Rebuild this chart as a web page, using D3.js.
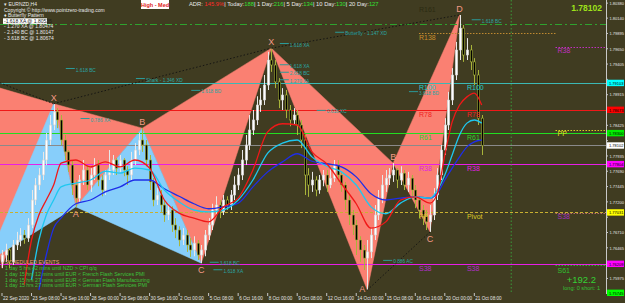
<!DOCTYPE html>
<html><head><meta charset="utf-8">
<script src="https://cdn.jsdelivr.net/npm/d3@7/dist/d3.min.js"></script>
<style>
html,body{margin:0;padding:0;background:#403c21;overflow:hidden}
svg{display:block}
</style></head><body>
<svg id="chart" width="625" height="303"></svg>
<script>
// ---------- DATA ----------
const firstOpen = 1.7624;
const closes = [1.7635,1.7643,1.7624,1.7651,1.7659,1.7667,1.7662,1.7683,1.7723,1.7747,
 1.7763,1.7787,1.7819,1.7843,1.7864,1.7851,1.7819,1.7800,1.7779,1.7747,
 1.7726,1.7755,1.7771,1.7747,1.7763,1.7779,1.7755,1.7739,1.7763,1.7771,
 1.7787,1.7774,1.7787,1.7771,1.7763,1.7787,1.7803,1.7819,1.7811,1.7787,
 1.7752,1.7723,1.7731,1.7715,1.7699,1.7707,1.7683,1.7675,1.7659,1.7667,
 1.7651,1.7643,1.7654,1.7635,1.7643,1.7667,1.7683,1.7707,1.7715,1.7704,
 1.7723,1.7715,1.7731,1.7747,1.7763,1.7787,1.7811,1.7835,1.7851,1.7875,
 1.7883,1.7907,1.7947,1.7939,1.7912,1.7883,1.7891,1.7867,1.7851,1.7859,
 1.7843,1.7819,1.7763,1.7747,1.7755,1.7739,1.7755,1.7763,1.7747,1.7758,
 1.7779,1.7763,1.7747,1.7723,1.7699,1.7683,1.7659,1.7643,1.7630,1.7640,
 1.7667,1.7699,1.7726,1.7747,1.7758,1.7763,1.7771,1.7755,1.7766,1.7747,
 1.7758,1.7739,1.7723,1.7707,1.7697,1.7688,1.7699,1.7731,1.7763,1.7803,
 1.7843,1.7883,1.7923,1.7963,1.7998,1.7955,1.7963,1.7944,1.7923,1.7854,
 1.7810];
const highs = [1.7643,1.7653,1.7646,1.7659,1.7672,1.7678,1.7675,1.7694,1.7739,1.7758,
 1.7774,1.7800,1.7830,1.7859,1.7877,1.7870,1.7859,1.7827,1.7803,1.7787,
 1.7755,1.7763,1.7787,1.7779,1.7774,1.7790,1.7787,1.7763,1.7771,1.7803,
 1.7795,1.7790,1.7795,1.7790,1.7777,1.7800,1.7814,1.7830,1.7838,1.7819,
 1.7795,1.7758,1.7742,1.7739,1.7723,1.7717,1.7713,1.7694,1.7681,1.7678,
 1.7675,1.7662,1.7665,1.7659,1.7651,1.7675,1.7694,1.7717,1.7729,1.7723,
 1.7731,1.7729,1.7739,1.7761,1.7774,1.7803,1.7827,1.7859,1.7867,1.7889,
 1.7902,1.7923,1.7960,1.7966,1.7947,1.7918,1.7902,1.7899,1.7875,1.7870,
 1.7867,1.7851,1.7827,1.7774,1.7768,1.7761,1.7763,1.7771,1.7771,1.7774,
 1.7787,1.7787,1.7768,1.7752,1.7731,1.7707,1.7691,1.7665,1.7651,1.7659,
 1.7678,1.7715,1.7739,1.7763,1.7771,1.7774,1.7782,1.7774,1.7777,1.7771,
 1.7768,1.7763,1.7747,1.7729,1.7715,1.7707,1.7715,1.7742,1.7774,1.7811,
 1.7854,1.7896,1.7934,1.7976,1.8019,1.8003,1.7982,1.7971,1.7950,1.7931,
 1.7859];
const lows = [1.7614,1.7624,1.7614,1.7619,1.7643,1.7649,1.7653,1.7656,1.7678,1.7715,
 1.7739,1.7755,1.7779,1.7811,1.7835,1.7838,1.7811,1.7787,1.7768,1.7731,
 1.7712,1.7720,1.7747,1.7739,1.7736,1.7755,1.7745,1.7729,1.7731,1.7755,
 1.7763,1.7763,1.7768,1.7761,1.7747,1.7755,1.7779,1.7795,1.7800,1.7777,
 1.7739,1.7713,1.7715,1.7704,1.7688,1.7691,1.7672,1.7662,1.7649,1.7651,
 1.7640,1.7632,1.7633,1.7627,1.7622,1.7633,1.7659,1.7675,1.7699,1.7694,
 1.7699,1.7707,1.7707,1.7723,1.7739,1.7755,1.7779,1.7803,1.7827,1.7843,
 1.7864,1.7875,1.7899,1.7928,1.7902,1.7870,1.7867,1.7854,1.7841,1.7843,
 1.7827,1.7806,1.7731,1.7728,1.7736,1.7729,1.7733,1.7745,1.7736,1.7742,
 1.7752,1.7752,1.7736,1.7707,1.7683,1.7667,1.7635,1.7624,1.7611,1.7579,
 1.7630,1.7659,1.7691,1.7718,1.7736,1.7747,1.7752,1.7742,1.7747,1.7739,
 1.7736,1.7726,1.7710,1.7694,1.7683,1.7675,1.7672,1.7691,1.7723,1.7755,
 1.7795,1.7835,1.7875,1.7915,1.7947,1.7944,1.7947,1.7931,1.7907,1.7843,
 1.7795];

const maBars = [6,8,10,12,14,16,20,24,28,32,36,40,44,48,52,56,60,64,68,72,76,80,84,88,92,96,100,104,108,112,116,118,120,122,124,126,128,130];
const maFast = [1.7587,1.7659,1.7699,1.7723,1.7747,1.7782,1.7787,1.7776,1.7784,1.7776,1.7787,1.7774,1.7723,1.7702,1.7694,1.7688,1.7712,1.7726,1.7771,1.7832,1.7845,1.7843,1.7800,1.7781,1.7749,1.7717,1.7678,1.7688,1.7723,1.7728,1.7718,1.7734,1.7795,1.7848,1.7875,1.7888,1.7894,1.7875];
const maMid = [null,1.7595,1.7659,1.7699,1.7723,1.7744,1.7750,1.7755,1.7769,1.7766,1.7774,1.7771,1.7739,1.7720,1.7707,1.7704,1.7707,1.7723,1.7755,1.7798,1.7814,1.7819,1.7792,1.7777,1.7768,1.7747,1.7712,1.7701,1.7718,1.7728,1.7726,1.7739,1.7763,1.7795,1.7827,1.7846,1.7851,1.7846];
const maSlow = [null,null,1.7579,1.7635,1.7678,1.7694,1.7717,1.7723,1.7736,1.7744,1.7755,1.7755,1.7741,1.7729,1.7717,1.7709,1.7712,1.7718,1.7744,1.7768,1.7784,1.7797,1.7785,1.7781,1.7776,1.7760,1.7733,1.7723,1.7726,1.7728,1.7726,1.7734,1.7755,1.7774,1.7792,1.7808,1.7816,1.7819];

// harmonic patterns: X, A, B, C, D
const patPrevBars = [-20,-14,-8,0,14];   const patPrevPrices = [1.7955,1.7560,1.7915,1.7614,1.7877]; // bearish
const patBullBars = [-4,14,20,38,54];    const patBullPrices = [1.7624,1.7877,1.7712,1.7838,1.7622]; // bullish
const pat1Bars = [14,20,38,54,73];       const pat1Prices = [1.7877,1.7712,1.7838,1.7622,1.7966];   // bearish
const pat2Bars = [73,99,106,116,124];    const pat2Prices = [1.7966,1.7579,1.7782,1.7672,1.8019];   // bearish
const pointNames = ["X","A","B","C","D"];

// pivot levels
const levelNames = ["R161","R138","R100","R78","R61","R38","PP","S38"];
const levelNames2 = ["","","R100","R78","R61","R38","Pivot","S38"];
const levelPrices = [1.8035,1.7990,1.79103,1.78673,1.78300,1.77804,1.77031,1.76209];
const weeklyNames = ["R38","PP","S38","S61"];
const weeklyPrices = [1.7968,1.7835,1.7702,1.7619];
const dashDotPrice = 1.8005;
const bidPrice = 1.78102;
const bottomPrice = 1.75745;
const currentBar = 138;

const priceTicks = ["1.80380","1.80140","1.79895","1.79650","1.79405","1.79160","1.78915","1.78670","1.78425","1.78180","1.77935","1.77690","1.77445","1.77200","1.76955","1.76710","1.76465","1.76220","1.75975"];
const timeLabels = ["22 Sep 2020","23 Sep 08:00","24 Sep 16:00","28 Sep 00:00","29 Sep 08:00","30 Sep 16:00","2 Oct 00:00","5 Oct 08:00","6 Oct 16:00","8 Oct 00:00","9 Oct 08:00","12 Oct 16:00","14 Oct 00:00","15 Oct 08:00","16 Oct 16:00","20 Oct 00:00","21 Oct 08:00"];
const timeLabelBars = [0,8,16,24,32,40,48,56,64,72,80,88,96,104,112,120,128];

const headerLines = ["\u25BE EURNZD,H4","Copyright \u00A9 http://www.pointzero-trading.com","\u2666 Butterfly Pattern","-1.618 XA @ 1.80535","- 1.270 XA @ 1.80474","- 2.140 BC @ 1.80147","- 3.618 BC @ 1.80674"];
const adrParts = ["ADR: ","145.9%","| Today:","188","| 1 Day:","216","| 5 Day:","134","| 10 Day:","130","| 20 Day:","127"];
const events = ["1 day 5 hrs 42 mins until NZD > CPI q/q","1 day 15 hrs 12 mins until EUR < French Flash Services PMI","1 day 15 hrs 27 mins until EUR < German Flash Manufacturing","1 day 15 hrs 27 mins until EUR > German Flash Services PMI"];

const fibTexts  = ["1.618 BC","Shark - 1.346 XD","Butterfly - 1.147 XD","1.618 XA","1.618 BC","3.618 BD","1.618 BD","1.618 XA","2.618 BC","1.270 XA","0.618 XC","0.886 AC","3.618 BC","1.618 XA","0.786 XA"];
const fibBars   = [20,39,93,78,130,113,54,78,78,78,88,106,59,60,24];
const fibPrices = [1.7931,1.7915,1.7989,1.7971,1.8009,1.7894,1.7896,1.7937,1.7925,1.7913,1.7864,1.7624,1.7621,1.7609,1.7851];

// ---------- DRAW ----------
const W = 625, H = 303, plotR = 606, plotB = 293;
const FONT = "'Liberation Sans', Arial, sans-serif";
const svg = d3.select("#chart");
const x = d3.scaleLinear().domain([0,130]).range([2,481.7]);
const y = d3.scaleLinear().domain([1.8043,1.75742]).range([0,293]);

svg.append("rect").attr("width",W).attr("height",H).attr("fill","#403c21");
svg.append("defs").append("clipPath").attr("id","plot")
  .append("rect").attr("x",0).attr("y",0).attr("width",plotR).attr("height",plotB);
const g = svg.append("g").attr("clip-path","url(#plot)");

const SALMON = "#fa8072", LBLUE = "#87cefa";
function tri(bars, prices, idx, fill) {
  const pts = idx.map(i => [x(bars[i]), y(prices[i])]);
  g.append("path").attr("d", d3.line()(pts) + "Z").attr("fill", fill).attr("stroke", fill).attr("stroke-width",0.5);
}
tri(patPrevBars, patPrevPrices, [2,3,4], SALMON);
tri(pat1Bars, pat1Prices, [0,1,2], SALMON);
tri(pat1Bars, pat1Prices, [2,3,4], SALMON);
tri(pat2Bars, pat2Prices, [0,1,2], SALMON);
tri(pat2Bars, pat2Prices, [2,3,4], SALMON);
tri(patBullBars, patBullPrices, [0,1,2], LBLUE);
tri(patBullBars, patBullPrices, [2,3,4], LBLUE);

// horizontal level lines
function hline(price, color, dash, x0, x1, w) {
  g.append("line").attr("x1", x0 == null ? 0 : x0).attr("x2", x1 == null ? plotR : x1)
   .attr("y1", Math.round(y(price))+0.5).attr("y2", Math.round(y(price))+0.5)
   .attr("stroke", color).attr("stroke-width", w || 1).attr("stroke-dasharray", dash || null);
}
hline(dashDotPrice, "#2fa22f", "7,3,2,3");
hline(levelPrices[1], "#c08a30", "1.5,1.5", x(113), x(150));
hline(levelPrices[2], "#3cb8b4");
hline(levelPrices[3], "#f01818");
hline(levelPrices[4], "#22dd22");
hline(bidPrice, "#8a8a8a");
hline(levelPrices[5], "#e81ee8");
hline(levelPrices[6], "#c8b030", "3,2");
hline(levelPrices[7], "#e81ee8");
hline(bottomPrice, "#7cfc00");
const weeklyColors = ["#c030c0","#d8d020","#b86a6a","#30b030"];
weeklyPrices.forEach((p,i) => hline(p, weeklyColors[i], "1.5,1.5", x(150), plotR));

// current-time vertical line
g.append("line").attr("x1", x(currentBar)).attr("x2", x(currentBar)).attr("y1",0).attr("y2",plotB)
  .attr("stroke","#3a9a3a").attr("stroke-dasharray","1.5,2");

// candles
const cw = 2.4;
closes.forEach((c,i) => {
  const o = i === 0 ? firstOpen : closes[i-1];
  const bull = c >= o;
  const cx = Math.round(x(i)) + 0.5;
  g.append("line").attr("x1",cx).attr("x2",cx).attr("y1",y(highs[i])).attr("y2",y(lows[i]))
    .attr("stroke", bull ? "#e8e8e8" : "#a8b43a").attr("stroke-width",1);
  const top = y(Math.max(o,c)), bot = y(Math.min(o,c));
  g.append("rect").attr("x", cx - cw/2).attr("y", top).attr("width", cw).attr("height", Math.max(0.8, bot-top))
    .attr("fill", bull ? "#ffffff" : "#000000").attr("stroke", bull ? "#cfcfcf" : "#a8b43a").attr("stroke-width",0.6);
});

// moving averages
function maLine(vals, color) {
  const pts = maBars.map((b,i) => [b, vals[i]]);
  g.append("path").datum(pts)
    .attr("d", d3.line().defined(d => d[1] != null).x(d => x(d[0])).y(d => y(d[1])).curve(d3.curveMonotoneX))
    .attr("fill","none").attr("stroke",color).attr("stroke-width",1.3);
}
maLine(maSlow, "#1e2ee8");
maLine(maMid, "#1ec8f0");
maLine(maFast, "#f01818");

// dotted pattern lines
function dotted(b0,p0,b1,p1) {
  g.append("line").attr("x1",x(b0)).attr("y1",y(p0)).attr("x2",x(b1)).attr("y2",y(p1))
   .attr("stroke","#111").attr("stroke-width",0.9).attr("stroke-dasharray","1.5,2");
}
dotted(patPrevBars[0],patPrevPrices[0],patPrevBars[4],patPrevPrices[4]);
dotted(pat1Bars[0],pat1Prices[0],pat1Bars[4],pat1Prices[4]);
dotted(pat2Bars[0],pat2Prices[0],pat2Bars[4],pat2Prices[4]);
dotted(pat2Bars[1],pat2Prices[1],pat2Bars[3],pat2Prices[3]);

// fib annotations
fibTexts.forEach((t,i) => {
  g.append("line").attr("x1", x(fibBars[i]) - 10).attr("x2", x(fibBars[i]) - 1)
    .attr("y1", y(fibPrices[i]) - 1.5).attr("y2", y(fibPrices[i]) - 1.5).attr("stroke","#2a9a98").attr("stroke-width",1);
  g.append("text").attr("x", x(fibBars[i])).attr("y", y(fibPrices[i]) + 1.5).text(t)
    .attr("font-family",FONT).attr("font-size",4.8).attr("fill","#2aa6a4");
});

// pattern labels
function plabels(bars, prices, names) {
  names.forEach((n,i) => {
    if (!n) return;
    const hi = (i % 2 === 0) === (prices[1] < prices[0]);
    const yy = hi ? y(prices[i]) - 3 : Math.min(y(prices[i]) + 10, plotB - 1);
    const xx = (!hi && y(prices[i]) + 10 > plotB) ? x(bars[i]) - 5 : x(bars[i]);
    g.append("text").attr("x", xx).attr("y", yy)
      .attr("text-anchor","middle").attr("font-family",FONT).attr("font-size",9).attr("fill","#f39a86").text(n);
  });
}
plabels(pat1Bars, pat1Prices, ["X","A","B","C",""]);
plabels(pat2Bars, pat2Prices, pointNames);

// pivot labels
const lvlColors = ["#2b2b12","#c88e2c","#22cccc","#f02020","#30d030","#e020e0","#d8c828","#b030c8"];
levelNames.forEach((n,i) => {
  g.append("text").attr("x", x(113)).attr("y", y(levelPrices[i]) + 7).text(n)
    .attr("font-family",FONT).attr("font-size",7).attr("fill", lvlColors[i]);
  if (levelNames2[i]) g.append("text").attr("x", x(126)).attr("y", y(levelPrices[i]) + 7).text(levelNames2[i])
    .attr("font-family",FONT).attr("font-size",7).attr("fill", lvlColors[i]);
});
const wkColors = ["#c030c0","#e0e020","#a030c0","#30c030"];
weeklyNames.forEach((n,i) => {
  g.append("text").attr("x", x(150) + 2).attr("y", y(weeklyPrices[i]) + (i===3 ? 8 : 6)).text(n)
    .attr("font-family",FONT).attr("font-size",7).attr("fill", wkColors[i]);
});

// ---------- axes ----------
const boxPrices = [levelPrices[2], levelPrices[3], levelPrices[4], bidPrice, levelPrices[5], levelPrices[6], levelPrices[7], bottomPrice];
const boxColors = ["#00ffff","#ff0000","#00ee00","#ffffff","#ff00ff","#ffff00","#ff00ff","#00ff00"];
svg.append("line").attr("x1",plotR+0.5).attr("x2",plotR+0.5).attr("y1",0).attr("y2",plotB+1).attr("stroke","#c8c8c8");
priceTicks.forEach(t => {
  const yy = y(+t);
  svg.append("line").attr("x1",plotR).attr("x2",plotR+2).attr("y1",yy).attr("y2",yy).attr("stroke","#c8c8c8");
  if (boxPrices.some(p => Math.abs(y(p) - yy) < 6.5)) return;
  svg.append("text").attr("x",plotR+3.5).attr("y",yy+1.8).text(t).attr("font-family",FONT).attr("font-size",4.4)
    .attr("textLength",14.5).attr("lengthAdjust","spacingAndGlyphs").attr("fill","#e6e6e6");
});
boxPrices.forEach((p,i) => {
  const yy = y(p);
  svg.append("rect").attr("x",plotR+1).attr("y",yy-3.2).attr("width",W-plotR-2).attr("height",6.4).attr("fill",boxColors[i]);
  svg.append("text").attr("x",plotR+3).attr("y",yy+1.8).text(p.toFixed(5)).attr("font-family",FONT).attr("font-size",4.4)
    .attr("textLength",14.5).attr("lengthAdjust","spacingAndGlyphs").attr("fill","#000");
});
timeLabels.forEach((t,i) => {
  const xx = x(timeLabelBars[i]);
  svg.append("line").attr("x1",xx).attr("x2",xx).attr("y1",plotB).attr("y2",plotB+3).attr("stroke","#c8c8c8");
  svg.append("text").attr("x",xx+1).attr("y",300).text(t).attr("font-family",FONT).attr("font-size",4.6).attr("fill","#e6e6e6");
});

// ---------- texts ----------
headerLines.forEach((t,i) => {
  const yy = 6 + i*5.6;
  if (i === 3) svg.append("rect").attr("x",3).attr("y",yy-4.5).attr("width",44).attr("height",5.6).attr("fill","#ffffff");
  svg.append("text").attr("x",4).attr("y",yy).text(t).attr("font-family",FONT).attr("font-size",5)
    .attr("fill", i === 3 ? "#202020" : "#e8e8e8");
});
svg.append("rect").attr("x",141).attr("y",0).attr("width",28).attr("height",9).attr("fill","#ffffff");
svg.append("text").attr("x",155).attr("y",6.5).attr("text-anchor","middle").text("High - Med")
  .attr("font-family",FONT).attr("font-size",5.5).attr("font-weight","bold").attr("fill","#e02020");
const adr = svg.append("text").attr("x",189).attr("y",6).attr("font-family",FONT).attr("font-size",5.8);
adrParts.forEach((t,i) => adr.append("tspan").text(t).attr("fill", i % 2 === 0 ? "#e8e8e8" : (i === 1 ? "#ff2a2a" : "#33e033")));
svg.append("text").attr("x",602).attr("y",11).attr("text-anchor","end").text(bidPrice.toFixed(5))
  .attr("font-family",FONT).attr("font-size",8.5).attr("font-weight","bold").attr("fill","#9ee21a");

svg.append("text").attr("x",5).attr("y",264).text("SCHEDULED EVENTS").attr("font-family",FONT).attr("font-size",5.2).attr("fill","#eea27a");
events.forEach((t,i) => svg.append("text").attr("x",5).attr("y",270 + i*5.8).text(t)
  .attr("font-family",FONT).attr("font-size",5.2).attr("fill","#3cc23c"));

svg.append("text").attr("x",596).attr("y",283).attr("text-anchor","end").text("+192.2")
  .attr("font-family",FONT).attr("font-size",9.5).attr("fill","#35d235");
svg.append("text").attr("x",600).attr("y",290).attr("text-anchor","end").text("long: 0   short: 1")
  .attr("font-family",FONT).attr("font-size",5.6).attr("fill","#35c035");
</script></body></html>
